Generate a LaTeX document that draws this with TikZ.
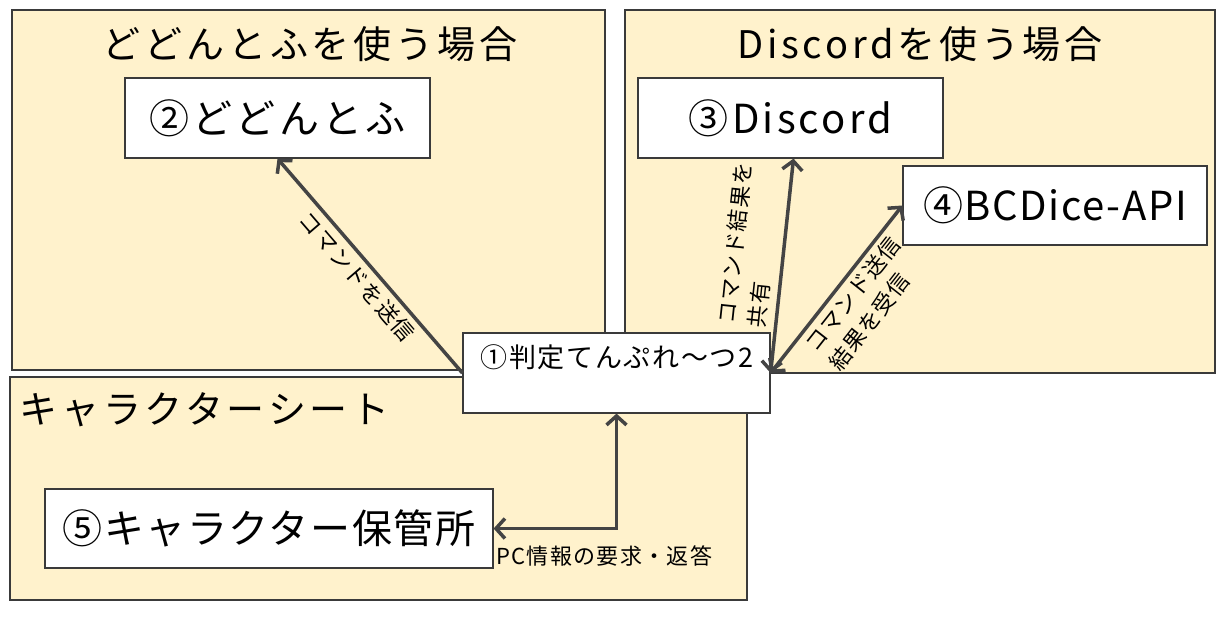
\documentclass[tikz,border=0pt]{standalone}
\usepackage{fontspec}
\setmainfont{Noto Sans CJK JP}
\usetikzlibrary{arrows.meta}
\definecolor{cfill}{HTML}{FFF2CC}
\definecolor{cline}{HTML}{3A3A3A}
\definecolor{aline}{HTML}{444444}
\newcommand{\myls}[1]{\addfontfeatures{LetterSpace=#1}}
\begin{document}
\begin{tikzpicture}[x=1pt,y=-1pt,
  container/.style={draw=cline, fill=cfill, line width=1.2pt},
  whitebox/.style={draw=cline, fill=white, line width=1.2pt, inner sep=0pt},
  conn/.style={draw=aline, line width=3.5pt},
  tipb/.tip={Straight Barb[length=9pt,width=20pt]},
  titlefont/.style={font=\fontsize{38}{44}\selectfont\myls{10}},
  boxfont/.style={font=\fontsize{40}{46}\selectfont\myls{#1}},
  boxfont/.default=8,
  lblfont/.style={font=\fontsize{22}{30}\selectfont\myls{6}, inner sep=2pt}
]
\useasboundingbox (0,0) rectangle (1228,616);
% containers
\draw[container] (12,10) rectangle (605,370);
\draw[container] (625,10) rectangle (1215,373);
\draw[container] (10,377) rectangle (747,600);
% titles
\node[titlefont] (t1) at (310,44) {どどんとふを使う場合};
\node[titlefont] (t2) at (920,44) {Discordを使う場合};
\node[titlefont, anchor=west] (t3) at (16,410) {キャラクターシート};
% boxes
\node[whitebox, minimum width=305pt, minimum height=80pt, boxfont] (n2) at (277.5,118) {②どどんとふ};
\node[whitebox, minimum width=305pt, minimum height=80pt, boxfont] (n3) at (790.5,118) {③Discord};
\node[whitebox, minimum width=304pt, minimum height=79pt, boxfont=4] (n4) at (1055,205.5) {④BCDice-API};
\node[whitebox, minimum width=448pt, minimum height=79pt, boxfont=4] (n5) at (269,528.5) {⑤キャラクター保管所};
\node[whitebox, minimum width=307pt, minimum height=80pt] (n1) at (616.5,373) {};
\node[font=\fontsize{27}{30}\selectfont\myls{6}] (n1t) at (617,357) {①判定てんぷれ～つ2};
% connectors
\draw[conn, -tipb] (n1.west) -- (n2.south)
  node[sloped, pos=0.5, below=3pt, lblfont] (l1) {コマンドを送信};
\draw[conn, tipb-tipb] (n1.east) -- ([xshift=3pt]n3.south)
  node[sloped, pos=0.58, above=5pt, lblfont, align=left] (l2) {コマンド結果を\\共有};
\draw[conn, tipb-tipb] (n1.east) -- (n4.west)
  node[sloped, pos=0.53, below=2pt, lblfont, align=left] (l3) {コマンド送信\\結果を受信};
\draw[conn, tipb-tipb] (n1.south) |- (n5.east);
\node[lblfont, anchor=west] (pc) at (494,556) {PC情報の要求・返答};
\end{tikzpicture}
\end{document}
